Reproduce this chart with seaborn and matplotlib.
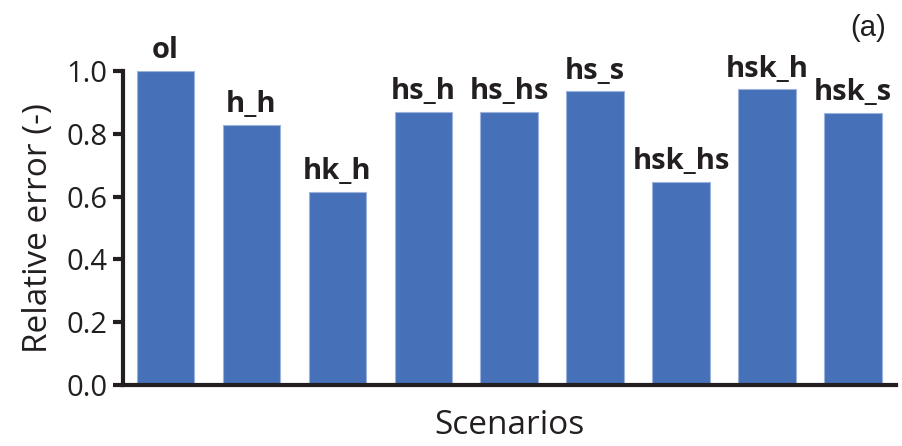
import matplotlib
matplotlib.use("Agg")
import matplotlib.pyplot as plt
import seaborn as sns
import pandas as pd

# Data
scenarios = ['ol', 'h_h', 'hk_h', 'hs_h', 'hs_hs', 'hs_s', 'hsk_hs', 'hsk_h', 'hsk_s']
rel_error = [1.0, 0.828, 0.615, 0.870, 0.870, 0.936, 0.647, 0.942, 0.866]
y_ticks = [0.0, 0.2, 0.4, 0.6, 0.8, 1.0]

df = pd.DataFrame({'Scenario': scenarios, 'Error': rel_error})

sns.set_style("ticks")
plt.rcParams['font.family'] = ['Open Sans', 'DejaVu Sans']

ink = '#231F20'
fig = plt.figure(figsize=(9.02, 4.46), dpi=100)
ax = fig.add_axes([0.136, 0.137, 0.857, 0.704])

sns.barplot(data=df, x='Scenario', y='Error', color='#4671B8', saturation=1,
            width=0.67, edgecolor='#9DB3DD', linewidth=0.8, ax=ax)

# bar labels above each bar
for i, (name, val) in enumerate(zip(scenarios, rel_error)):
    ax.annotate(name, xy=(i, val), xytext=(0, 9), textcoords='offset points',
                ha='center', va='baseline', fontsize=21, fontweight='bold', color=ink)

ax.set_xlim(-0.5, 8.5)
ax.set_ylim(0, 1.0)
ax.set_yticks(y_ticks)
ax.set_yticklabels([f'{t:.1f}' for t in y_ticks])
ax.set_xticks([])
ax.set_xlabel('Scenarios', fontsize=24, color=ink, labelpad=17)
ax.set_ylabel('Relative error (-)', fontsize=24, color=ink, labelpad=8)
ax.tick_params(axis='y', labelsize=21, width=3, length=7, pad=4,
               color=ink, labelcolor=ink)

sns.despine(ax=ax)
for side in ['left', 'bottom']:
    ax.spines[side].set_linewidth(3)
    ax.spines[side].set_color(ink)
    ax.spines[side].set_capstyle('projecting')
ax.spines['left'].set_zorder(5)

fig.text(0.962, 0.937, '(a)', ha='center', va='center', fontsize=21,
         family='Liberation Sans', color=ink)

fig.savefig('out.png', dpi=100)
